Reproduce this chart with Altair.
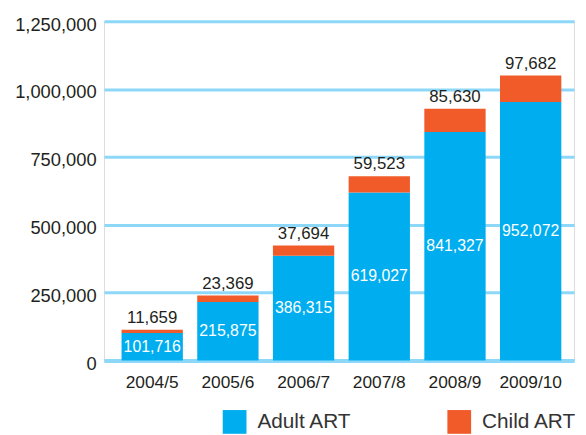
import altair as alt
import pandas as pd

years = ["2004/5", "2005/6", "2006/7", "2007/8", "2008/9", "2009/10"]
adult = [101716, 215875, 386315, 619027, 841327, 952072]
child = [11659, 23369, 37694, 59523, 85630, 97682]
series = ["Adult ART", "Child ART"]
colors = ["#00AEEF", "#F15A29"]
y_ticks = [0, 250000, 500000, 750000, 1000000, 1250000]

rows = []
for y, a, c in zip(years, adult, child):
    rows.append({"year": y, "series": series[0], "value": a, "ord": 0})
    rows.append({"year": y, "series": series[1], "value": c, "ord": 1})
df = pd.DataFrame(rows)
lab = pd.DataFrame({"year": years, "adult": adult, "child": child,
                    "mid": [a / 2 for a in adult],
                    "top": [a + c for a, c in zip(adult, child)]})

NUMFONT = "Liberation Sans Narrow, Arial Narrow, Liberation Sans, Arial, sans-serif"
LEGFONT = "Liberation Sans, Arial, sans-serif"
GRID = "#8DD8F8"
TXT = "#231F20"

xenc = alt.X("year:N", sort=years, title=None,
             scale=alt.Scale(paddingInner=0.19, paddingOuter=0.2, align=0.58),
             axis=alt.Axis(labelAngle=0, labelFont=NUMFONT, labelFontSize=17.5,
                           labelColor=TXT, ticks=False, domain=True,
                           domainColor=GRID, domainWidth=4, labelPadding=13,
                           labelBaseline="top"))

bars = alt.Chart(df).mark_bar().encode(
    x=xenc,
    y=alt.Y("value:Q", stack="zero", title=None,
            scale=alt.Scale(domain=[0, 1250000], nice=False),
            axis=alt.Axis(values=y_ticks, format=",d", labelFont=NUMFONT,
                          labelFontSize=18.5, labelColor=TXT, ticks=False,
                          domain=False, grid=True, gridColor=GRID, gridWidth=3,
                          gridOpacity=1, labelPadding=8, labelOffset=3)),
    color=alt.Color("series:N", scale=alt.Scale(domain=series, range=colors),
                    legend=alt.Legend(title=None, orient="none", legendX=120,
                                      legendY=393, direction="horizontal",
                                      symbolType="square", symbolSize=576,
                                      symbolStrokeWidth=0, symbolOpacity=1,
                                      labelFont=LEGFONT,
                                      labelFontSize=21, labelColor="#333333",
                                      labelOffset=11, columnPadding=96,
                                      labelLimit=200)),
    order=alt.Order("ord:Q", sort="ascending"),
)

inside = alt.Chart(lab).mark_text(font=NUMFONT, fontSize=16, color="white",
                                  baseline="middle").encode(
    x=alt.X("year:N", sort=years),
    y=alt.Y("mid:Q"),
    text=alt.Text("adult:Q", format=",d"),
)

above = alt.Chart(lab).mark_text(font=NUMFONT, fontSize=17, color=TXT,
                                 baseline="bottom", dy=-3).encode(
    x=alt.X("year:N", sort=years),
    y=alt.Y("top:Q"),
    text=alt.Text("child:Q", format=",d"),
)

chart = alt.layer(bars, inside, above).properties(
    width=475, height=343,
    autosize=alt.AutoSizeParams(type="none"),
    padding={"left": 97, "top": 11, "right": 4, "bottom": 80},
).configure_view(stroke=GRID, strokeWidth=3).configure(background="white")

chart.save("out.html", embed_options={"renderer": "svg", "actions": False})
